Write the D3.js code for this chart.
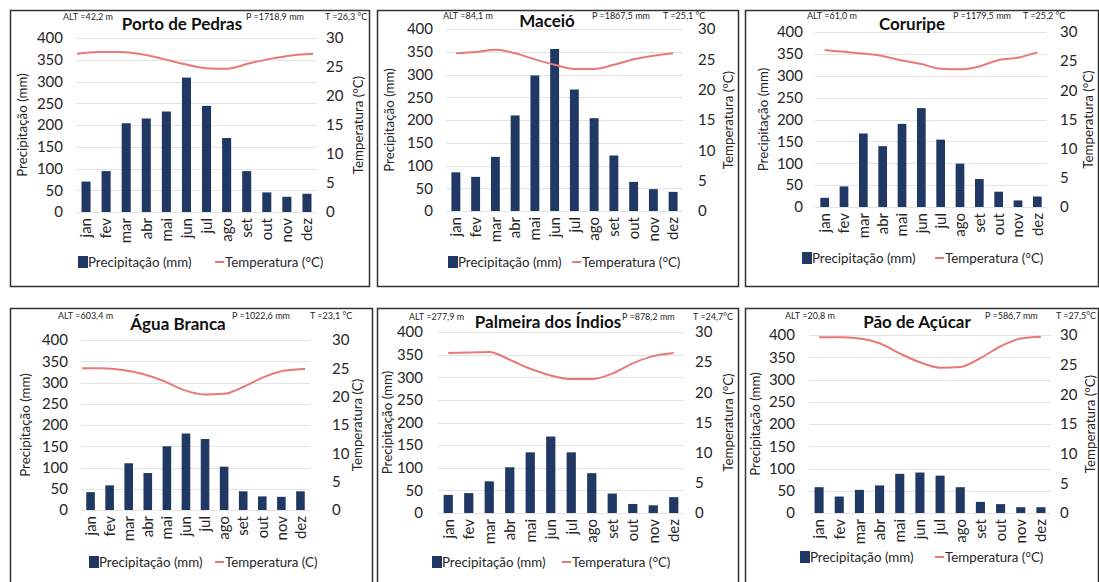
<!DOCTYPE html>
<html>
<head>
<meta charset="utf-8">
<script src="https://cdn.jsdelivr.net/npm/d3@7/dist/d3.min.js"></script>
<style>
  html, body { margin: 0; padding: 0; background: #fff; }
  svg { display: block; font-family: Lato, "Noto Sans", sans-serif; }
</style>
</head>
<body>
<svg id="chart" width="1099" height="582"></svg>
<script>
// Climograms of six stations in Alagoas: monthly rainfall (bars) and mean temperature (line)
const months = ["jan", "fev", "mar", "abr", "mai", "jun", "jul", "ago", "set", "out", "nov", "dez"];
const stationNames = ["Porto de Pedras", "Maceió", "Coruripe", "Água Branca", "Palmeira dos Índios", "Pão de Açúcar"];
const altLabels = ["ALT =42,2 m", "ALT =84,1 m", "ALT =61,0 m", "ALT =603,4 m", "ALT =277,9 m", "ALT =20,8 m"];
const rainLabels = ["P =1718,9 mm", "P =1867,5 mm", "P =1179,5 mm", "P =1022,6 mm", "P =878,2 mm", "P =586,7 mm"];
const tempLabels = ["T =26,3 °C", "T =25,1 °C", "T =25,2 °C", "T =23,1 °C", "T =24,7°C", "T =27,5°C"];
const tempLegendLabels = ["Temperatura (°C)", "Temperatura (°C)", "Temperatura (°C)", "Temperatura (C)", "Temperatura (°C)", "Temperatura (°C)"];

const rainTicks = [0, 50, 100, 150, 200, 250, 300, 350, 400];
const tempTicks = [0, 5, 10, 15, 20, 25, 30];

// monthly precipitation (mm)
const rainPortoPedras = [70, 94, 204, 215, 231, 309, 244, 170, 94, 45, 35, 42];
const rainMaceio = [85, 75, 119, 210, 298, 356, 267, 204, 122, 64, 48, 42];
const rainCoruripe = [21, 47, 168, 139, 190, 226, 154, 99, 64, 35, 15, 24];
const rainAguaBranca = [42, 58, 110, 87, 150, 180, 167, 102, 44, 32, 31, 44];
const rainPalmeira = [40, 44, 70, 101, 134, 169, 134, 88, 43, 20, 17, 35];
const rainPaoAcucar = [58, 37, 52, 62, 88, 91, 84, 58, 25, 20, 13, 13];

// monthly mean temperature (°C)
const tempPortoPedras = [27.3, 27.6, 27.6, 27.2, 26.4, 25.5, 24.8, 24.7, 25.6, 26.4, 27.0, 27.3];
const tempMaceio = [26.0, 26.2, 26.6, 26.0, 25.0, 24.1, 23.4, 23.4, 24.1, 25.0, 25.6, 26.0];
const tempCoruripe = [26.9, 26.6, 26.3, 25.9, 25.1, 24.5, 23.7, 23.6, 24.1, 25.2, 25.6, 26.5];
const tempAguaBranca = [25.0, 25.0, 24.7, 24.0, 22.8, 21.2, 20.4, 20.5, 21.8, 23.5, 24.6, 24.9];
const tempPalmeira = [26.5, 26.6, 26.7, 25.4, 23.9, 22.8, 22.2, 22.2, 23.1, 24.8, 26.0, 26.5];
const tempPaoAcucar = [29.6, 29.6, 29.4, 28.6, 26.9, 25.4, 24.5, 24.6, 26.1, 28.1, 29.4, 29.7];

const rainSeries = [rainPortoPedras, rainMaceio, rainCoruripe, rainAguaBranca, rainPalmeira, rainPaoAcucar];
const tempSeries = [tempPortoPedras, tempMaceio, tempCoruripe, tempAguaBranca, tempPalmeira, tempPaoAcucar];

// panel geometry (frame, plot area, label anchors)
const layouts = [
  { box: [10, 10, 369, 286], px: [76, 317], py: [212, 38], lineX: [77, 313],
    leftTickX: 63, rightTickX: 326, titleX: 182, titleY: 30, headY: 20,
    altX: 63, pX: 246, tX: 325, yLabX: 22, y2LabX: 358, legY: 262, legSq: 78, legLine: 215 },
  { box: [377, 10, 738, 286], px: [446, 683], py: [211, 29], lineX: null,
    leftTickX: 433, rightTickX: 698, titleX: 547, titleY: 27, headY: 19,
    altX: 443, pX: 592, tX: 663, yLabX: 389, y2LabX: 728, legY: 262, legSq: 448, legLine: 572 },
  { box: [745, 10, 1098, 286], px: [815, 1047], py: [207, 32], lineX: null,
    leftTickX: 803, rightTickX: 1060, titleX: 912, titleY: 30, headY: 19,
    altX: 807, pX: 953, tX: 1023, yLabX: 763, y2LabX: 1088, legY: 258, legSq: 802, legLine: 935 },
  { box: [10, 308, 372, 595], px: [81, 310], py: [510, 340], lineX: [82, 305],
    leftTickX: 68, rightTickX: 332, titleX: 178, titleY: 330, headY: 319,
    altX: 58, pX: 232, tX: 310, yLabX: 25, y2LabX: 357, legY: 562, legSq: 89, legLine: 215 },
  { box: [377, 308, 738, 595], px: [438, 684], py: [513, 332], lineX: null,
    leftTickX: 423, rightTickX: 695, titleX: 548, titleY: 328, headY: 320,
    altX: 409, pX: 622, tX: 693, yLabX: 387, y2LabX: 728, legY: 562, legSq: 432, legLine: 562 },
  { box: [745, 308, 1098, 595], px: [809, 1051], py: [513, 335], lineX: null,
    leftTickX: 795, rightTickX: 1060, titleX: 917, titleY: 328, headY: 319,
    altX: 785, pX: 985, tX: 1056, yLabX: 755, y2LabX: 1090, legY: 557, legSq: 800, legLine: 935 }
];

const BAR = "#1f3864";
const LINE = "#e8797b";
const GRID = "#e3e3e3";
const TEXT = "#262626";
const LABEL_SIZE = 13.3;

const svg = d3.select("#chart");

stationNames.forEach((name, i) => {
  const L = layouts[i];
  const rain = rainSeries[i];
  const temp = tempSeries[i];
  const g = svg.append("g");

  // frame
  g.append("rect")
    .attr("x", L.box[0] + 0.5).attr("y", L.box[1] + 0.5)
    .attr("width", L.box[2] - L.box[0]).attr("height", L.box[3] - L.box[1])
    .attr("fill", "#fff").attr("stroke", "#333").attr("stroke-width", 1.5);

  const x = d3.scaleBand().domain(months).range(L.px).paddingInner(0.55).paddingOuter(0.275);
  const yRain = d3.scaleLinear().domain([0, 400]).range(L.py);
  const yTemp = d3.scaleLinear().domain([0, 30]).range(L.py);
  const xLine = L.lineX
    ? d3.scalePoint().domain(months).range(L.lineX)
    : (m => x(m) + x.bandwidth() / 2);

  // gridlines
  g.append("g").selectAll("line").data(rainTicks).join("line")
    .attr("x1", L.px[0]).attr("x2", L.px[1])
    .attr("y1", d => Math.round(yRain(d)) + 0.5).attr("y2", d => Math.round(yRain(d)) + 0.5)
    .attr("stroke", GRID).attr("stroke-width", 1);

  // left axis (precipitation)
  const leftAxis = d3.axisLeft(yRain).tickValues(rainTicks).tickSize(0).tickPadding(0);
  const ga = g.append("g").attr("transform", `translate(${L.leftTickX},0)`).call(leftAxis);
  ga.select(".domain").remove();
  ga.selectAll("text").attr("font-size", 15).attr("fill", TEXT).attr("font-family", "Lato, sans-serif");

  // right axis (temperature)
  const rightAxis = d3.axisRight(yTemp).tickValues(tempTicks).tickSize(0).tickPadding(0);
  const gb = g.append("g").attr("transform", `translate(${L.rightTickX},0)`).call(rightAxis);
  gb.select(".domain").remove();
  gb.selectAll("text").attr("font-size", 15).attr("fill", TEXT).attr("font-family", "Lato, sans-serif");

  // bars
  g.append("g").selectAll("rect").data(rain).join("rect")
    .attr("x", (d, j) => x(months[j]))
    .attr("width", x.bandwidth())
    .attr("y", d => yRain(d))
    .attr("height", d => yRain(0) - yRain(d))
    .attr("fill", BAR);

  // temperature line
  const line = d3.line()
    .x((d, j) => xLine(months[j]))
    .y(d => yTemp(d))
    .curve(d3.curveMonotoneX);
  g.append("path").datum(temp)
    .attr("d", line).attr("fill", "none")
    .attr("stroke", LINE).attr("stroke-width", 2);

  // month labels, rotated
  const xAxis = d3.axisBottom(x).tickSize(0).tickPadding(0);
  const gx = g.append("g").attr("transform", `translate(0,${yRain(0)})`).call(xAxis);
  gx.select(".domain").remove();
  gx.selectAll("text")
    .attr("font-size", 15).attr("fill", TEXT).attr("font-family", "Lato, sans-serif")
    .attr("transform", "rotate(-90)")
    .attr("text-anchor", "end")
    .attr("x", -6).attr("y", 0).attr("dy", "0.35em");

  // axis titles
  const midY = (L.py[0] + L.py[1]) / 2;
  g.append("text")
    .attr("transform", `translate(${L.yLabX},${midY}) rotate(-90)`)
    .attr("text-anchor", "middle").attr("dy", "0.35em")
    .attr("font-size", LABEL_SIZE).attr("fill", TEXT)
    .text("Precipitação (mm)");
  g.append("text")
    .attr("transform", `translate(${L.y2LabX},${midY}) rotate(-90)`)
    .attr("text-anchor", "middle").attr("dy", "0.35em")
    .attr("font-size", LABEL_SIZE).attr("fill", TEXT)
    .text(tempLegendLabels[i]);

  // header: station, altitude, annual totals
  g.append("text").attr("x", L.titleX).attr("y", L.titleY)
    .attr("text-anchor", "middle").attr("font-size", 17).attr("font-weight", "bold")
    .attr("fill", "#111").text(name);
  const head = [[L.altX, altLabels[i]], [L.pX, rainLabels[i]], [L.tX, tempLabels[i]]];
  g.append("g").selectAll("text").data(head).join("text")
    .attr("x", d => d[0]).attr("y", L.headY)
    .attr("font-size", 9).attr("fill", TEXT)
    .text(d => d[1]);

  // legend
  const lg = g.append("g").attr("transform", `translate(0,${L.legY})`);
  lg.append("rect").attr("x", L.legSq).attr("y", -6).attr("width", 10).attr("height", 12).attr("fill", BAR);
  lg.append("text").attr("x", L.legSq + 10).attr("y", 0).attr("dy", "0.35em")
    .attr("font-size", LABEL_SIZE).attr("fill", TEXT).text("Precipitação (mm)");
  lg.append("line").attr("x1", L.legLine).attr("x2", L.legLine + 9).attr("y1", 0).attr("y2", 0)
    .attr("stroke", LINE).attr("stroke-width", 2);
  lg.append("text").attr("x", L.legLine + 10).attr("y", 0).attr("dy", "0.35em")
    .attr("font-size", LABEL_SIZE).attr("fill", TEXT).text(tempLegendLabels[i]);
});
</script>
</body>
</html>
